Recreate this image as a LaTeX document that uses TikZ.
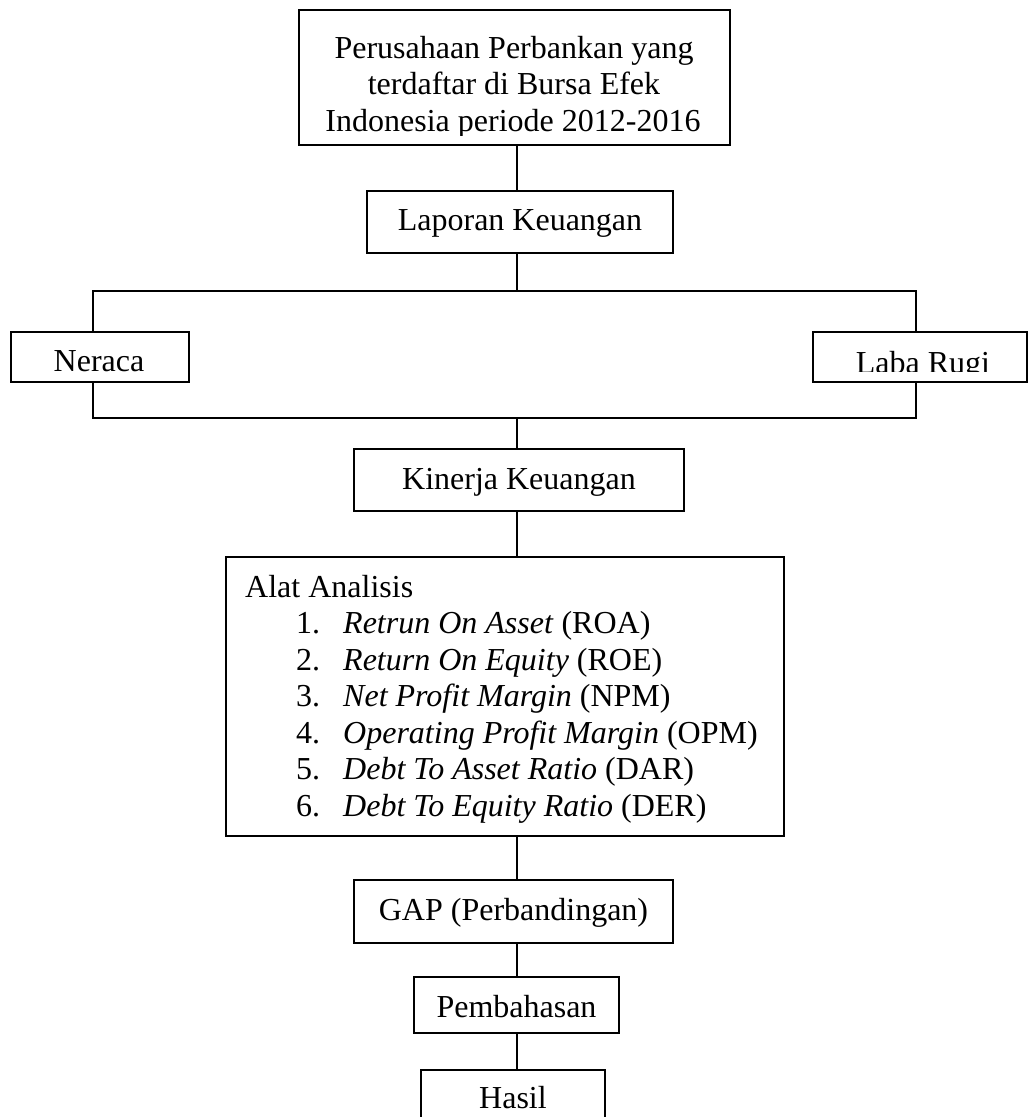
\documentclass[tikz,border=0pt]{standalone}
\usepackage{fontspec}
\setmainfont{Liberation Serif}
\begin{document}
\begin{tikzpicture}[x=1pt,y=-1pt,
  box/.style={draw, line width=1.8pt, rectangle, inner sep=0pt},
  txt/.style={anchor=base, inner sep=0pt, font=\fontsize{32pt}{36.5pt}\selectfont},
  ltxt/.style={anchor=base west, inner sep=0pt, font=\fontsize{32pt}{36.5pt}\selectfont},
  conn/.style={line width=1.8pt}]
\useasboundingbox (0,0) rectangle (1028,1117);
\clip (0,0) rectangle (1028,1117);

% boxes
\node[box, minimum width=431pt, minimum height=135pt] (top) at (514.5,77.5) {};
\node[box, minimum width=306pt, minimum height=62pt] (lap) at (520,222) {};
\node[box, minimum width=178pt, minimum height=50pt] (nrc) at (100,357) {};
\node[box, minimum width=214pt, minimum height=50pt] (lr) at (920,357) {};
\node[box, minimum width=330pt, minimum height=62pt] (kin) at (519,480) {};
\node[box, minimum width=558pt, minimum height=279pt] (alat) at (505,696.5) {};
\node[box, minimum width=319pt, minimum height=63pt] (gap) at (513.5,911.5) {};
\node[box, minimum width=205pt, minimum height=56pt] (pem) at (516.5,1005) {};
\node[box, minimum width=184pt, minimum height=55pt] (has) at (513,1097.5) {};

% texts
\node[txt] (t1) at (514,58) {Perusahaan Perbankan yang};
\node[txt] (t2) at (514,94.5) {terdaftar di Bursa Efek};
\begin{scope}
  \clip (300,100) rectangle (729,135.5);
  \node[txt] (t3) at (513,131) {Indonesia periode 2012-2016};
\end{scope}
\node[txt] (tlap) at (520,230) {Laporan Keuangan};
\node[txt] (tnrc) at (99,371) {Neraca};
\begin{scope}
  \clip (814,333) rectangle (1026,371.5);
  \node[txt] (tlr) at (923,373.5) {Laba Rugi};
\end{scope}
\node[txt] (tkin) at (519,489) {Kinerja Keuangan};
\node[ltxt] (a0) at (245,597) {Alat Analisis};
\node[ltxt] (n1) at (296,633.5) {1.};
\node[ltxt] (i1) at (343,633.5) {\textit{Retrun On Asset} (ROA)};
\node[ltxt] (n2) at (296,670) {2.};
\node[ltxt] (i2) at (343,670) {\textit{Return On Equity} (ROE)};
\node[ltxt] (n3) at (296,706.5) {3.};
\node[ltxt] (i3) at (343,706.5) {\textit{Net Profit Margin} (NPM)};
\node[ltxt] (n4) at (296,743) {4.};
\node[ltxt] (i4) at (343,743) {\textit{Operating Profit Margin} (OPM)};
\node[ltxt] (n5) at (296,779.5) {5.};
\node[ltxt] (i5) at (343,779.5) {\textit{Debt To Asset Ratio} (DAR)};
\node[ltxt] (n6) at (296,816) {6.};
\node[ltxt] (i6) at (343,816) {\textit{Debt To Equity Ratio} (DER)};
\node[txt] (tgap) at (513.5,920) {GAP (Perbandingan)};
\node[txt] (tpem) at (516.5,1017) {Pembahasan};
\node[txt] (thas) at (513,1108) {Hasil};

% connectors
\coordinate (spine) at (517,0);
\coordinate (busTL) at (93,291);
\coordinate (busTR) at (916,291);
\coordinate (busBL) at (93,418);
\coordinate (busBR) at (916,418);

\draw[conn] (top.south -| spine) -- (lap.north -| spine);
\draw[conn] (lap.south -| spine) -- (spine |- busTL);
\draw[conn] (nrc.north -| busTL) -- (busTL) -- (busTR) -- (lr.north -| busTR);
\draw[conn] (nrc.south -| busBL) -- (busBL) -- (busBR) -- (lr.south -| busBR);
\draw[conn] (spine |- busBL) -- (kin.north -| spine);
\draw[conn] (kin.south -| spine) -- (alat.north -| spine);
\draw[conn] (alat.south -| spine) -- (gap.north -| spine);
\draw[conn] (gap.south -| spine) -- (pem.north -| spine);
\draw[conn] (pem.south -| spine) -- (has.north -| spine);
\end{tikzpicture}
\end{document}
